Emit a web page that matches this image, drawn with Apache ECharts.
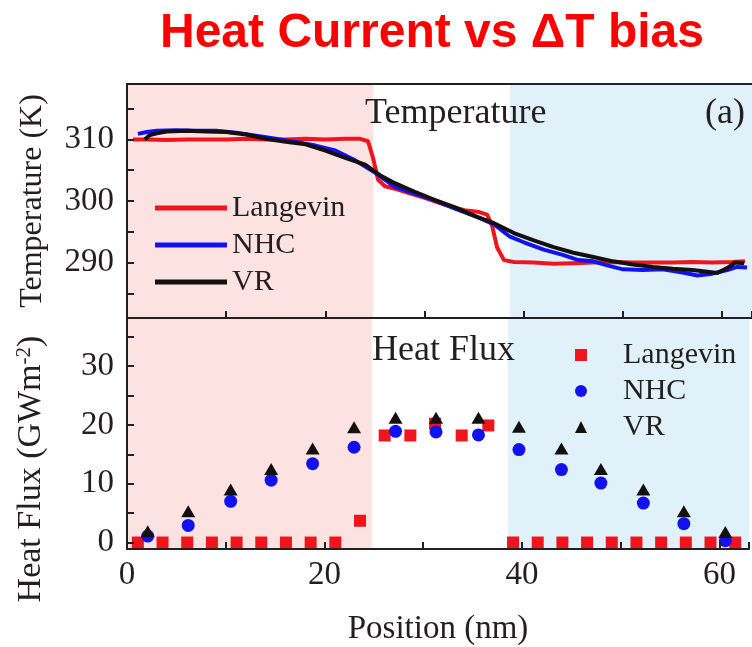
<!DOCTYPE html>
<html>
<head>
<meta charset="utf-8">
<script src="https://cdn.jsdelivr.net/npm/echarts@6/dist/echarts.min.js"></script>
<style>html,body{margin:0;padding:0;background:#fff}#c{width:752px;height:647px}</style>
</head>
<body>
<div id="c"></div>
<script>
// ---- Temperature profiles (Position nm, T in K) ----
const langevinTx = [0.6, 2, 4, 6, 8, 10, 12, 14, 16, 18, 20, 22, 23.5, 24.3, 24.8, 25.3, 26, 27, 28, 30, 32, 34, 35.5, 36.3, 36.8, 37.3, 38, 39, 41, 43, 45, 47, 49, 51, 53, 55, 57, 59, 61, 62.3];
const langevinT  = [310, 310, 309.9, 310, 310, 310, 310.1, 310, 310, 310.1, 310, 310.1, 310.1, 309.7, 307, 303.5, 302.4, 302, 301.5, 300.5, 299.4, 298.5, 298.2, 297.8, 296, 292.5, 290.4, 290.1, 290, 289.8, 289.9, 290, 290.1, 290, 290, 290, 290.1, 290, 290.1, 290.2];
const nhcTx = [1.1, 2, 3, 5, 7, 9, 11, 13, 15, 17, 19, 21, 23, 25, 27, 29, 31, 33, 35, 37, 38.6, 40, 42, 44, 45.5, 47, 48.5, 50, 52, 54, 56, 57.5, 59, 60.5, 61.5, 62.5];
const nhcT  = [310.9, 311.2, 311.4, 311.5, 311.4, 311.4, 311.1, 310.6, 310.1, 309.6, 309, 308.2, 306.6, 304.6, 302.3, 301.2, 300.1, 298.8, 297.6, 296.2, 294.2, 293.3, 292.1, 291.2, 290.4, 290.2, 289.5, 288.9, 288.8, 288.9, 288.4, 287.9, 288.2, 288.8, 289.3, 289.2];
const vrTx = [1.8, 2.3, 3, 4, 6, 8, 10, 12, 14, 16, 18, 20, 22, 24, 25.5, 27, 29, 31, 33, 35, 37, 39, 41, 43, 45, 47, 49, 51, 53, 55, 57, 58.5, 59.5, 60.5, 61.3, 62.2];
const vrT  = [310, 310.7, 311, 311.3, 311.4, 311.3, 311.2, 310.8, 310.1, 309.6, 309.2, 308.2, 307, 305.9, 304.2, 302.9, 301.5, 300.2, 299, 297.6, 296.4, 294.8, 293.6, 292.5, 291.6, 290.9, 290.2, 289.7, 289.3, 289.0, 288.8, 288.5, 288.3, 289.1, 290, 289.9];

// ---- Heat flux (Position nm, GW m^-2) ----
const fluxLangevinX = [1.1, 3.6, 6.1, 8.6, 11.1, 13.6, 16.1, 18.6, 21.1, 23.6, 26.1, 28.7, 31.2, 33.9, 36.6, 39.1, 41.6, 44.1, 46.6, 49.1, 51.6, 54.1, 56.6, 59.1, 61.6];
const fluxLangevin  = [0, 0, 0, 0, 0, 0, 0, 0, 0, 3.7, 18.2, 18.2, 20.2, 18.2, 19.9, 0, 0, 0, 0, 0, 0, 0, 0, 0, 0];
const fluxX   = [2.1, 6.2, 10.5, 14.6, 18.8, 23, 27.2, 31.3, 35.6, 39.7, 44, 48, 52.3, 56.4, 60.6];
const fluxNhc = [1.1, 2.9, 7.0, 10.6, 13.4, 16.2, 18.9, 18.8, 18.3, 15.8, 12.4, 10.1, 6.7, 3.2, 0.3];
const fluxVr  = [1.9, 5.3, 9.0, 12.5, 16.0, 19.6, 21.2, 21.2, 21.2, 19.7, 16.0, 12.5, 9.0, 5.3, 1.8];

// ---- Axis ticks ----
const tempLabels = [290, 300, 310];
const tempTicks  = [285, 290, 295, 300, 305, 310, 315];
const fluxLabels = [0, 10, 20, 30];
const fluxTicks  = [0, 5, 10, 15, 20, 25, 30, 35];

// ---- Shaded regions (nm) ----
const hotRegion  = [0, 24.8];
const coldRegion = [38.6, 63];

const zip = (xs, ys) => xs.map((x, i) => [x, ys[i]]);

const SERIF = '"Liberation Serif", "Times New Roman", serif';
const RED = '#f0141c', BLUE = '#1212f0', BLACK = '#141010';
const AX = '#231f20';

const chart = echarts.init(document.getElementById('c'), null, {renderer: 'canvas'});

const regionArea = {
  silent: true,
  data: [
    [{xAxis: hotRegion[0], itemStyle: {color: '#fde2e2'}}, {xAxis: hotRegion[1]}],
    [{xAxis: coldRegion[0], itemStyle: {color: '#e1f1fa'}}, {xAxis: coldRegion[1]}]
  ]
};

const commonX = {
  type: 'value', min: 0, max: 63, interval: 10, z: 10,
  axisLine: {show: true, onZero: false, lineStyle: {color: AX, width: 2}},
  axisTick: {show: true, inside: true, length: 7, lineStyle: {color: AX, width: 2}},
  splitLine: {show: false}
};

const option = {
  animation: false,
  backgroundColor: '#fff',
  title: {
    text: 'Heat Current vs ΔT bias',
    left: 160, top: 10, padding: 0,
    textStyle: {color: '#ff0000', fontSize: 48, fontWeight: 'bold', fontFamily: '"Liberation Sans", Arial, sans-serif'}
  },
  grid: [
    {left: 127, right: -5, top: 84, height: 234},
    {left: 127, right: -5, top: 319, height: 236}
  ],
  xAxis: [
    Object.assign({}, commonX, {gridIndex: 0, axisLabel: {show: false}}),
    Object.assign({}, commonX, {
      gridIndex: 1,
      name: 'Position (nm)', nameLocation: 'middle', nameGap: 64,
      nameTextStyle: {fontFamily: SERIF, fontSize: 33, color: AX},
      axisLabel: {
        show: true, margin: 10, fontFamily: SERIF, fontSize: 33, color: AX,
        formatter: v => (v % 20 === 0 ? String(v) : '')
      }
    }),
    {type: 'value', gridIndex: 0, position: 'top', min: 0, max: 63, z: 10,
     axisLine: {show: true, lineStyle: {color: AX, width: 2}}, axisTick: {show: false}, axisLabel: {show: false}, splitLine: {show: false}}
  ],
  yAxis: [
    {
      type: 'value', gridIndex: 0, min: 281, max: 319, z: 10,
      name: 'Temperature (K)', nameLocation: 'middle', nameGap: 78,
      nameTextStyle: {fontFamily: SERIF, fontSize: 32, color: AX},
      axisLine: {show: true, lineStyle: {color: AX, width: 2}},
      axisTick: {show: true, inside: true, length: 7, customValues: tempTicks, lineStyle: {color: AX, width: 2}},
      axisLabel: {show: true, customValues: tempLabels, margin: 13, fontFamily: SERIF, fontSize: 33, color: AX},
      splitLine: {show: false}
    },
    {
      type: 'value', gridIndex: 1, min: -1.1, max: 38, z: 10,
      name: 'Heat Flux (GWm{sup|-2})', nameLocation: 'middle', nameGap: 78,
      nameTextStyle: {
        fontFamily: SERIF, fontSize: 34, color: AX, padding: [0, 70, 0, 0],
        rich: {sup: {fontFamily: SERIF, fontSize: 21, color: AX, verticalAlign: 'top', padding: [0, 0, 14, 0]}}
      },
      axisLine: {show: true, lineStyle: {color: AX, width: 2}},
      axisTick: {show: true, inside: true, length: 7, customValues: fluxTicks, lineStyle: {color: AX, width: 2}},
      axisLabel: {show: true, customValues: fluxLabels, margin: 13, fontFamily: SERIF, fontSize: 33, color: AX},
      splitLine: {show: false}
    }
  ],
  legend: [
    {
      orient: 'vertical', left: 155, top: 193, padding: 0,
      itemWidth: 72, itemHeight: 5, itemGap: 7,
      icon: 'rect',
      data: ['Langevin', 'NHC', 'VR'],
      textStyle: {fontFamily: SERIF, fontSize: 30, color: AX, lineHeight: 30}
    },
    {
      orient: 'vertical', left: 575, top: 340, padding: 0,
      itemWidth: 12, itemHeight: 12, itemGap: 6,
      data: ['Langevin flux', 'NHC flux', 'VR flux'],
      formatter: n => n.replace(' flux', ''),
      textStyle: {fontFamily: SERIF, fontSize: 30, color: AX, lineHeight: 30, padding: [0, 0, 0, 31]}
    }
  ],
  graphic: [
    {type: 'text', left: 365, top: 96, z: 20, silent: true,
     style: {text: 'Temperature', fontFamily: SERIF, fontSize: 36, fill: AX}},
    {type: 'text', left: 705, top: 96, z: 20, silent: true,
     style: {text: '(a)', fontFamily: SERIF, fontSize: 36, fill: AX}},
    {type: 'text', left: 372, top: 333, z: 20, silent: true,
     style: {text: 'Heat Flux', fontFamily: SERIF, fontSize: 36, fill: AX}}
  ],
  series: [
    {type: 'line', name: 'regions-top', xAxisIndex: 0, yAxisIndex: 0, data: [], z: 1, markArea: regionArea},
    {type: 'line', name: 'regions-bottom', xAxisIndex: 1, yAxisIndex: 1, data: [], z: 1, markArea: regionArea},
    {type: 'line', name: 'Langevin', xAxisIndex: 0, yAxisIndex: 0, data: zip(langevinTx, langevinT),
     showSymbol: false, symbol: 'none', lineStyle: {color: RED, width: 4}, itemStyle: {color: RED}, z: 3},
    {type: 'line', name: 'NHC', xAxisIndex: 0, yAxisIndex: 0, data: zip(nhcTx, nhcT),
     showSymbol: false, symbol: 'none', lineStyle: {color: BLUE, width: 4}, itemStyle: {color: BLUE}, z: 4},
    {type: 'line', name: 'VR', xAxisIndex: 0, yAxisIndex: 0, data: zip(vrTx, vrT),
     showSymbol: false, symbol: 'none', lineStyle: {color: BLACK, width: 4}, itemStyle: {color: BLACK}, z: 5},
    {type: 'scatter', name: 'Langevin flux', xAxisIndex: 1, yAxisIndex: 1, data: zip(fluxLangevinX, fluxLangevin),
     symbol: 'rect', symbolSize: 12, itemStyle: {color: RED, opacity: 1}, z: 3},
    {type: 'scatter', name: 'NHC flux', xAxisIndex: 1, yAxisIndex: 1, data: zip(fluxX, fluxNhc),
     symbol: 'circle', symbolSize: 13, itemStyle: {color: BLUE, opacity: 1}, z: 4},
    {type: 'scatter', name: 'VR flux', xAxisIndex: 1, yAxisIndex: 1, data: zip(fluxX, fluxVr),
     symbol: 'triangle', symbolSize: [14, 12], itemStyle: {color: BLACK, opacity: 1}, z: 5}
  ]
};
chart.setOption(option);
</script>
</body>
</html>
